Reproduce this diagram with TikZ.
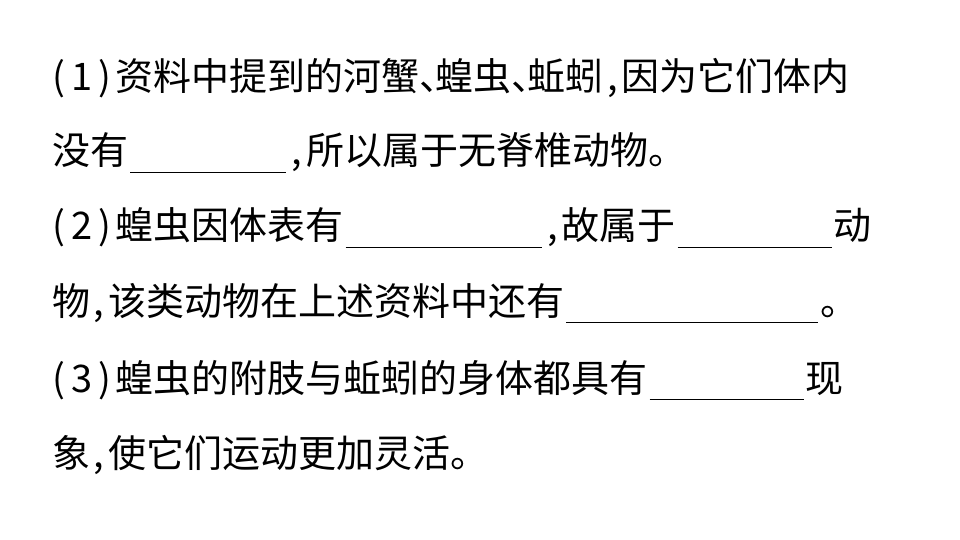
\documentclass[tikz,border=0pt]{standalone}
\usepackage{fontspec}
\setmainfont{Noto Sans CJK SC}
\begin{document}
\begin{tikzpicture}[x=1pt,y=1pt,every node/.style={anchor=west,inner sep=0pt,font=\fontsize{38}{38}\selectfont}]
\useasboundingbox[fill=white] (0,0) rectangle (960,-540);
\newcommand{\blank}[1]{\hspace{2pt}\rule[-8pt]{#1pt}{0.8pt}\hspace{2pt}}
\newcommand{\cm}{\makebox[18pt][c]{,}}
\newcommand{\dn}{\makebox[16pt][l]{、}}
\newcommand{\pn}[1]{(\,#1\,)\hspace{4pt}}
\node (l1) at (52,-78) {\pn{1}资料中提到的河蟹\dn 蝗虫\dn 蚯蚓\cm 因为它们体内};
\node (l2) at (52,-153) {没有\blank{156}\cm 所以属于无脊椎动物。};
\node (l3) at (52,-228) {\pn{2}蝗虫因体表有\blank{196}\cm 故属于\blank{154}动};
\node (l4) at (52,-303) {物\cm 该类动物在上述资料中还有\blank{252}。};
\node (l5) at (52,-380) {\pn{3}蝗虫的附肢与蚯蚓的身体都具有\blank{154}现};
\node (l6) at (52,-455) {象\cm 使它们运动更加灵活。};
\end{tikzpicture}
\end{document}
